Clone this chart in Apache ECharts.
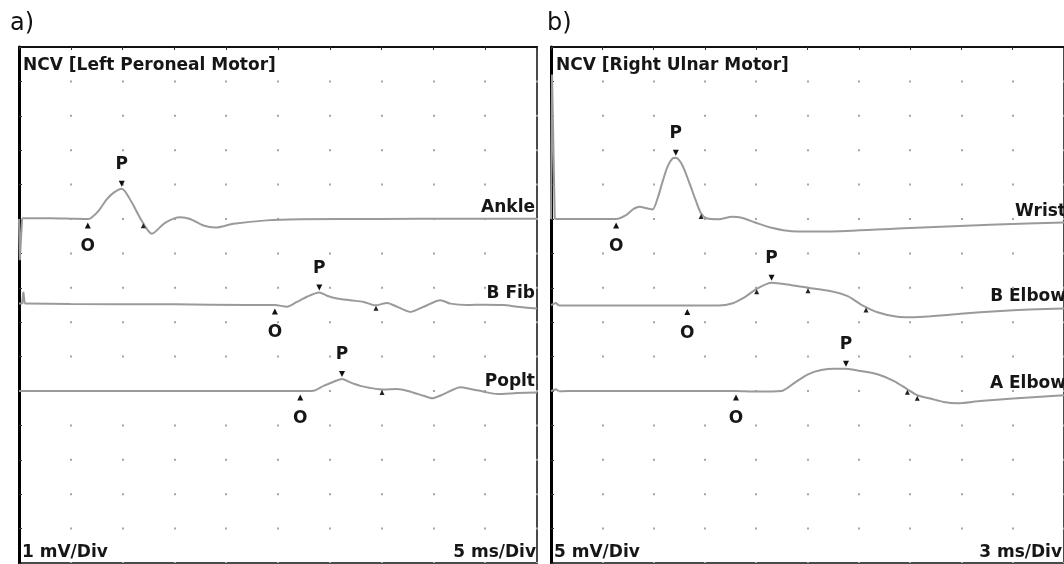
<!DOCTYPE html>
<html>
<head>
<meta charset="utf-8">
<script src="https://cdn.jsdelivr.net/npm/echarts@6/dist/echarts.min.js"></script>
<style>
html,body{margin:0;padding:0;background:#fff;}
#c{width:1064px;height:564px;}
</style>
</head>
<body>
<div id="c"></div>
<script>
// ---------- data (time in ms, amplitude in mV relative to each trace's baseline) ----------
const panelTitles = ['NCV [Left Peroneal Motor]', 'NCV [Right Ulnar Motor]'];
const panelLetters = ['a)', 'b)'];
const ampScales = ['1 mV/Div', '5 mV/Div'];
const timeScales = ['5 ms/Div', '3 ms/Div'];
const mvPerDiv = [1, 5];
const msPerDiv = [5, 3];

const leftTraceNames = ['Ankle', 'B Fib', 'Poplt'];
const rightTraceNames = ['Wrist', 'B Elbow', 'A Elbow'];
const traceOffsetsDiv = [10, 7.5, 5];

// stimulus artifacts (drawn straight)
const ankleStim = [[0,0],[0.08,-1.2],[0.22,-1.2],[0.3,0.02]];
const bFibStim = [[0,0.04],[0.3,0.04],[0.42,0.38],[0.55,0.04]];
const popltStim = [[0,0],[0.1,0]];
const wristStim = [[0,0],[0.06,21],[0.16,21],[0.22,0]];
const bElbowStim = [[0,0],[0.3,0.3],[0.45,-0.07]];
const aElbowStim = [[0,0],[0.3,0.25],[0.45,-0.05]];

// evoked responses
const ankle = [[0.3,0.02],[1,0.02],[3,0.02],[5,0.01],[6.64,0],[6.95,0.03],[7.66,0.23],[8.47,0.57],[9.11,0.76],[9.92,0.88],[10.89,0.48],[11.86,-0.06],[12.82,-0.43],[14.1,-0.11],[15.56,0.05],[16.52,0],[17.8,-0.19],[18.94,-0.25],[20.7,-0.14],[23.9,-0.04],[27.1,-0.01],[35,0],[42,0.01],[50,0.01]];
const bFib = [[0.55,0.04],[5,0.03],[15,0.02],[22,0],[24.7,0],[25.86,-0.05],[26.83,0.09],[27.8,0.24],[28.99,0.36],[29.73,0.27],[30.7,0.19],[31.98,0.14],[33.27,0.09],[34.4,-0.01],[35.53,0.06],[36.49,-0.05],[37.78,-0.2],[39.06,-0.05],[40.68,0.14],[41.64,0.04],[43.26,0],[44.86,0.01],[46.79,0],[48.08,-0.05],[50,-0.1]];
const poplt = [[0.1,0],[10,0],[20,0],[27.15,0],[28.43,0.01],[29.4,0.15],[30.37,0.27],[31.18,0.35],[31.98,0.25],[32.95,0.15],[33.91,0.09],[35.2,0.04],[36.49,0.06],[37.78,-0.02],[39.06,-0.14],[39.87,-0.21],[41.0,-0.09],[42.61,0.11],[43.57,0.06],[44.86,-0.02],[46.15,-0.09],[48.08,-0.06],[50,-0.04]];
const wrist = [[0.22,0],[1,0],[3,0],[3.81,0],[4.39,0.55],[4.78,1.38],[5.17,1.77],[5.65,1.53],[5.94,1.38],[6.23,2.98],[6.52,5.4],[6.81,7.58],[7.1,8.79],[7.3,8.89],[7.68,7.82],[8.07,5.4],[8.46,2.73],[8.78,0.8],[9.13,0.07],[9.81,-0.03],[10.58,0.32],[11.16,0.17],[11.94,-0.51],[12.9,-1.28],[14.06,-1.77],[16.19,-1.82],[20.26,-1.38],[26.06,-0.8],[30,-0.51]];
const bElbow = [[0.45,-0.07],[1,-0.07],[5,-0.07],[7.97,-0.07],[9.04,-0.07],[9.81,-0.07],[10.58,0.22],[11.36,1.19],[12.03,2.35],[12.9,3.23],[14.06,2.88],[15.03,2.5],[16.38,2.0],[17.35,1.28],[18.13,0.07],[19.09,-1.05],[20.26,-1.71],[21.03,-1.77],[22.19,-1.63],[24.13,-1.24],[26.06,-0.9],[28.0,-0.65],[30,-0.51]];
const aElbow = [[0.45,-0.05],[1,0],[7,0],[10.82,0],[11.94,-0.09],[13.48,0],[14.26,1.22],[15.03,2.43],[15.8,3.05],[16.58,3.25],[17.25,3.25],[18.13,2.9],[19.09,2.43],[20.06,1.45],[20.84,0.25],[21.42,-0.62],[22.19,-1.1],[22.97,-1.6],[23.74,-1.79],[25.09,-1.45],[27.03,-1.1],[30,-0.62]];

// markers: onset (O), peak (P), other small cursors  [ms, mV]
const onsets = [[[6.64,0],[24.7,0],[27.15,0]], [[3.81,0],[7.97,-0.07],[10.82,0]]];
const peaks  = [[[9.92,0.88],[28.99,0.36],[31.18,0.35]], [[7.3,8.89],[12.9,3.23],[17.25,3.25]]];
const cursors = [[[[12.0,-0.11]],[[34.46,-0.01]],[[35.04,0.04]]], [[[8.78,0.8]],[[12.03,2.35],[15.03,2.5],[18.42,-0.3]],[[20.84,0.25],[21.42,-0.62]]]];

const stims = [[ankleStim, bFibStim, popltStim], [wristStim, bElbowStim, aElbowStim]];
const traces = [[ankle, bFib, poplt], [wrist, bElbow, aElbow]];
const traceNames = [leftTraceNames, rightTraceNames];

// ---------- layout ----------
const FONT = 'DejaVu Sans';
const TXT = '#161616';
const gridLeft = [19, 551];
const gridTop = 47, gridW = 518, gridH = 516;
const traceLabelRight = [535, 1066];
const traceLabelY = [[208, 294, 382], [212, 297, 384]];

const grids = [], xAxes = [], yAxes = [], series = [], graphics = [];
for (let p = 0; p < 2; p++) {
  grids.push({left: gridLeft[p], top: gridTop, width: gridW, height: gridH, show: true, borderColor: '#4a4a4a', borderWidth: 2, backgroundColor: '#fff'});
  xAxes.push({gridIndex: p, type: 'value', min: 0, max: msPerDiv[p] * 10, interval: msPerDiv[p], position: 'top',
    axisLine: {show: true, onZero: false, lineStyle: {color: '#111', width: 2}},
    axisTick: {show: true, inside: true, length: 3, lineStyle: {color: '#333', width: 1}},
    axisLabel: {show: false},
    splitLine: {show: true, lineStyle: {color: '#a6a6a6', width: 2, type: [2, gridH / 15 - 2], dashOffset: 1}}});
  yAxes.push({gridIndex: p, type: 'value', min: 0, max: 15, interval: 1,
    axisLine: {show: true, onZero: false, lineStyle: {color: '#000', width: 3}},
    axisTick: {show: true, inside: true, length: 3, lineStyle: {color: '#333', width: 1}},
    axisLabel: {show: false}, splitLine: {show: false}});

  const toY = (v, k) => traceOffsetsDiv[k] + v / mvPerDiv[p];
  for (let k = 0; k < 3; k++) {
    series.push({type: 'line', xAxisIndex: p, yAxisIndex: p, name: traceNames[p][k] + ' stim',
      data: stims[p][k].map(d => [d[0], toY(d[1], k)]), showSymbol: false, smooth: false,
      lineStyle: {color: '#9a9a9a', width: 2}, z: 2, silent: true});
    series.push({type: 'line', xAxisIndex: p, yAxisIndex: p, name: traceNames[p][k],
      data: traces[p][k].map(d => [d[0], toY(d[1], k)]), showSymbol: false, smooth: 0.25,
      lineStyle: {color: '#9a9a9a', width: 2}, z: 2, silent: true});
    graphics.push({type: 'text', style: {text: traceNames[p][k], x: traceLabelRight[p], y: traceLabelY[p][k],
      textAlign: 'right', textVerticalAlign: 'middle', font: 'bold 17px "' + FONT + '"', fill: TXT}});
  }
  const lbl = {fontFamily: FONT, fontWeight: 'bold', fontSize: 17, color: TXT, opacity: 1};
  series.push({type: 'scatter', xAxisIndex: p, yAxisIndex: p, z: 5, silent: true,
    data: onsets[p].map((d, k) => [d[0], toY(d[1], k)]),
    symbol: 'triangle', symbolSize: [6, 6], symbolOffset: [0, 6.5], itemStyle: {color: '#111', opacity: 1},
    label: Object.assign({show: true, formatter: 'O', position: 'inside', offset: [0, 21.5]}, lbl)});
  series.push({type: 'scatter', xAxisIndex: p, yAxisIndex: p, z: 5, silent: true,
    data: peaks[p].map((d, k) => [d[0], toY(d[1], k)]),
    symbol: 'path://M0,0L10,0L5,9Z', symbolSize: [6, 6], symbolOffset: [0, -5], itemStyle: {color: '#111', opacity: 1},
    label: Object.assign({show: true, formatter: 'P', position: 'inside', offset: [0, -19]}, lbl)});
  const cur = [];
  cursors[p].forEach((arr, k) => arr.forEach(d => cur.push([d[0], toY(d[1], k)])));
  series.push({type: 'scatter', xAxisIndex: p, yAxisIndex: p, z: 5, silent: true, data: cur,
    symbol: 'triangle', symbolSize: [5, 5], symbolOffset: [0, 3], itemStyle: {color: '#222', opacity: 1}});

  graphics.push({type: 'text', style: {text: panelLetters[p], x: [10, 547][p], y: 24, textVerticalAlign: 'middle', font: '24px "' + FONT + '"', fill: '#111'}});
  graphics.push({type: 'text', style: {text: panelTitles[p], x: [23, 556][p], y: 66, textVerticalAlign: 'middle', font: 'bold 17px "' + FONT + '"', fill: TXT}});
  graphics.push({type: 'text', style: {text: ampScales[p], x: [22, 554][p], y: 553, textVerticalAlign: 'middle', font: 'bold 17px "' + FONT + '"', fill: TXT}});
  graphics.push({type: 'text', style: {text: timeScales[p], x: [536, 1062][p], y: 553, textAlign: 'right', textVerticalAlign: 'middle', font: 'bold 17px "' + FONT + '"', fill: TXT}});
}

const chart = echarts.init(document.getElementById('c'), null, {renderer: 'canvas'});
chart.setOption({animation: false, backgroundColor: '#fff', grid: grids, xAxis: xAxes, yAxis: yAxes, series: series, graphic: graphics});
</script>
</body>
</html>
